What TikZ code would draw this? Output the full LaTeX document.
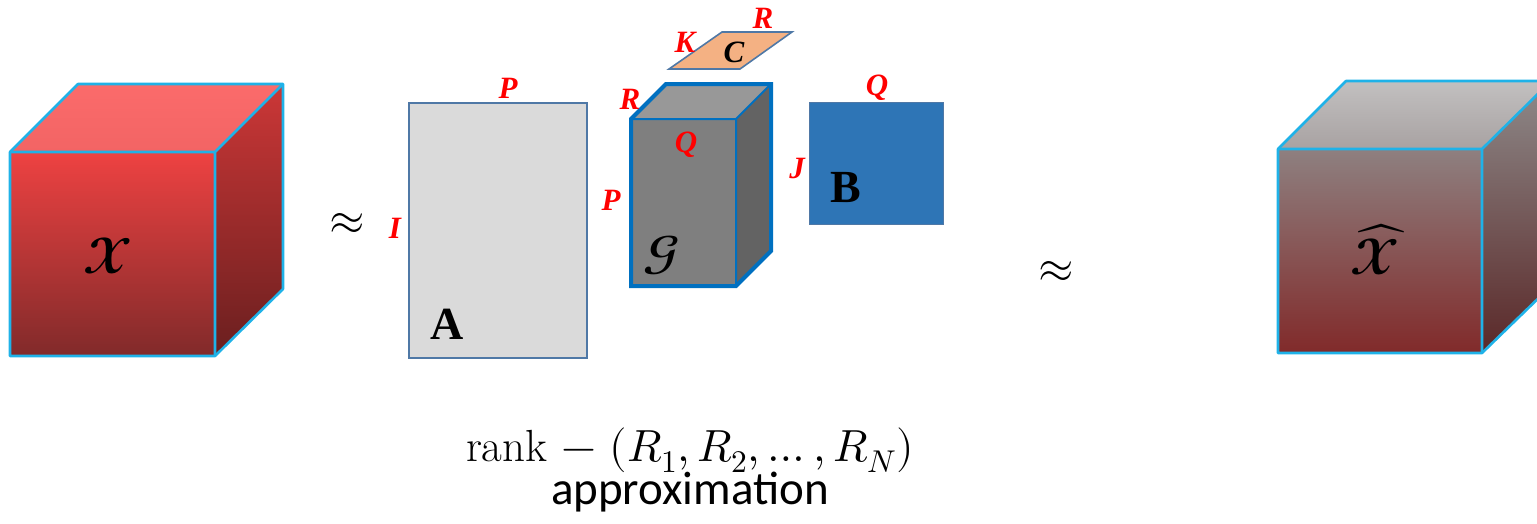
\documentclass[tikz,border=0pt]{standalone}
\usepackage{fontspec}
\usepackage{unicode-math}
\setmathfont{Latin Modern Math}
\newfontfamily\labfont{Liberation Serif}
\newfontfamily\apxfont{Carlito}
\definecolor{edgecyan}{HTML}{1FB2E8}
\definecolor{redtop}{HTML}{FB6B6B}
\definecolor{redtopb}{HTML}{F26464}
\definecolor{redfront}{HTML}{EE4242}
\definecolor{redfrontb}{HTML}{812A2A}
\definecolor{redside}{HTML}{CC3737}
\definecolor{redsideb}{HTML}{6A1F1F}
\definecolor{gtop}{HTML}{C2C0C0}
\definecolor{gtopb}{HTML}{A8A2A2}
\definecolor{gfront}{HTML}{8E8080}
\definecolor{gfrontb}{HTML}{812A2A}
\definecolor{gside}{HTML}{8E8A8A}
\definecolor{gsideb}{HTML}{5A2828}
\definecolor{matA}{HTML}{DADADA}
\definecolor{matedge}{HTML}{4F78A6}
\definecolor{coreblue}{HTML}{0070C0}
\definecolor{corefront}{HTML}{7F7F7F}
\definecolor{coretop}{HTML}{989898}
\definecolor{coreside}{HTML}{636363}
\definecolor{matC}{HTML}{F4B183}
\definecolor{matB}{HTML}{2E75B6}
\definecolor{labred}{HTML}{FF0000}
\tikzset{
  dimlab/.style={text=labred, inner sep=0pt, font=\labfont\bfseries\itshape\fontsize{31}{31}\selectfont},
  matlab/.style={inner sep=0pt, font=\labfont\bfseries\fontsize{46}{46}\selectfont},
  cubeedge/.style={draw=edgecyan, line width=2.6pt, line join=round},
  approx/.style={inner sep=0pt, font=\fontsize{46}{46}\selectfont},
}
\begin{document}
\begin{tikzpicture}[x=1pt,y=-1pt]
\useasboundingbox (0,0) rectangle (1537,523);
\clip (0,0) rectangle (1537,523);
% left cube X
\shade[top color=redtop, bottom color=redtopb] (10,152)--(78,84)--(283,84)--(215,152)--cycle;
\shade[top color=redside, bottom color=redsideb] (215,152)--(283,84)--(283,289)--(215,356)--cycle;
\shade[top color=redfront, bottom color=redfrontb] (10,152) rectangle (215,356);
\draw[cubeedge] (10,152)--(78,84)--(283,84)--(283,289)--(215,356)--(10,356)--cycle;
\draw[cubeedge] (10,152)--(215,152)--(215,356) (215,152)--(283,84);
\node (X) at (108,256) {\fontsize{50}{50}\selectfont$\mathbfcal{X}$};
% approx signs
\node[approx] (ap1) at (347,224) {$\approx$};
\node[approx] (ap2) at (1056,272) {$\approx$};
% matrix A
\draw[draw=matedge, fill=matA, line width=1.6pt] (409,103) rectangle (587,358);
\node[matlab] (A) at (447,324) {A};
\node[dimlab] (PA) at (508,88) {P};
\node[dimlab] (IA) at (395,228) {I};
% core G
\fill[coretop] (631,119)--(666,84)--(771,84)--(736,119)--cycle;
\fill[coreside] (736,119)--(771,84)--(771,251)--(736,286)--cycle;
\fill[corefront] (631,119) rectangle (736,286);
\draw[coreblue, line width=2pt] (631,119)--(736,119)--(736,286) (736,119)--(771,84);
\draw[coreblue, line width=4pt, line join=miter] (631,119)--(666,84)--(771,84)--(771,251)--(736,286)--(631,286)--cycle;
\node (G) at (662,255) {\fontsize{46}{46}\selectfont$\mathbfcal{G}$};
\node[dimlab] (QG) at (686,145) {Q};
\node[dimlab] (PG) at (611,200) {P};
\node[dimlab] (RG) at (630,99) {R};
% matrix C
\draw[draw=matedge, fill=matC, line width=1.6pt] (669,69)--(722,32)--(792,32)--(740,69)--cycle;
\node[inner sep=0pt, font=\labfont\bfseries\itshape\fontsize{31}{31}\selectfont] (C) at (734,52) {C};
\node[dimlab] (KC) at (685,42) {K};
\node[dimlab] (RC) at (763,18) {R};
% matrix B
\draw[draw=matedge, fill=matB, line width=1pt] (809,102) rectangle (943,224);
\node[matlab] (B) at (846,188) {B};
\node[dimlab] (QB) at (877,88) {Q};
\node[dimlab] (JB) at (797,168) {J};
% right cube Xhat
\shade[top color=gtop, bottom color=gtopb] (1278,149)--(1346,81)--(1551,81)--(1482,149)--cycle;
\shade[top color=gside, bottom color=gsideb] (1482,149)--(1551,81)--(1551,286)--(1482,353)--cycle;
\shade[top color=gfront, bottom color=gfrontb] (1278,149) rectangle (1482,353);
\draw[cubeedge] (1278,149)--(1346,81)--(1551,81)--(1551,286)--(1482,353)--(1278,353)--cycle;
\draw[cubeedge] (1278,149)--(1482,149)--(1482,353) (1482,149)--(1551,81);
\node (Xh) at (1375,250) {\fontsize{50}{50}\selectfont$\widehat{\mathbfcal{X}}$};
% caption
\node[inner sep=0pt, anchor=base, font=\fontsize{45}{45}\selectfont] (rank) at (690,461) {rank $-$ $(R_1, R_2, \ldots, R_N)$};
\node[inner sep=0pt, anchor=base, font=\apxfont\fontsize{47}{47}\selectfont] (apx) at (690,504) {approximation};
\end{tikzpicture}
\end{document}
